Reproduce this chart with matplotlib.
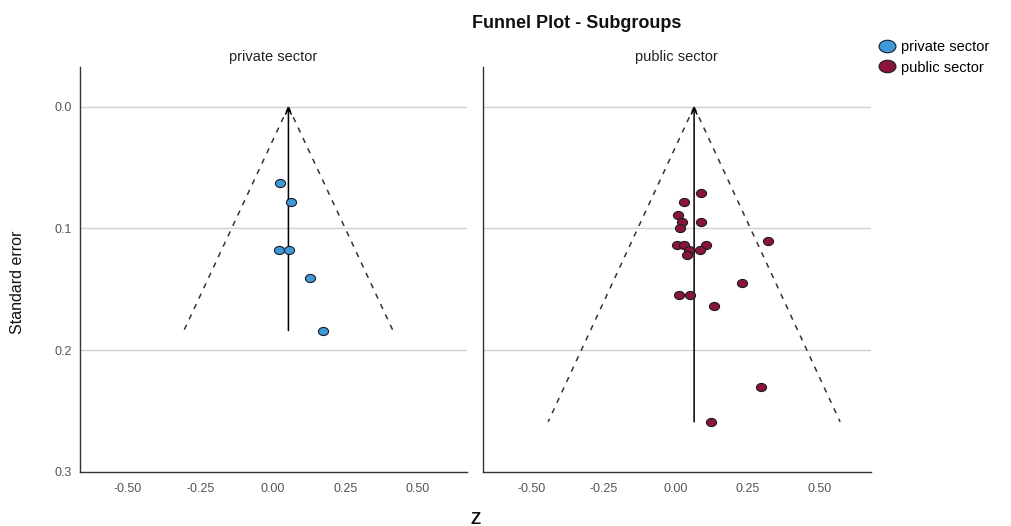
import matplotlib
matplotlib.use("Agg")
import matplotlib.pyplot as plt
from matplotlib.markers import MarkerStyle
from matplotlib.transforms import Affine2D
from matplotlib.lines import Line2D
import numpy as np

# ---- data ----
groups = ["private sector", "public sector"]
private_z = [0.024, 0.062, 0.021, 0.056, 0.128, 0.171]
private_se = [0.063, 0.078, 0.118, 0.118, 0.141, 0.184]
public_z = [0.089, 0.030, 0.009, 0.022, 0.088, 0.016, 0.322, 0.004, 0.030,
            0.106, 0.047, 0.085, 0.039, 0.230, 0.012, 0.050, 0.135, 0.299, 0.123]
public_se = [0.071, 0.078, 0.089, 0.095, 0.095, 0.100, 0.110, 0.114, 0.114,
             0.114, 0.118, 0.118, 0.122, 0.145, 0.155, 0.155, 0.164, 0.230, 0.259]
mean_z = [0.053, 0.065]
se_max = [0.184, 0.259]
x_ticks = [-0.50, -0.25, 0.00, 0.25, 0.50]
x_ticklabels = ["-0.50", "-0.25", "0.00", "0.25", "0.50"]
y_ticks = [0.0, 0.1, 0.2, 0.3]
y_ticklabels = ["0.0", "0.1", "0.2", "0.3"]
colors = ["#3d9ad6", "#8a1538"]

W, H = 1011, 526
fig = plt.figure(figsize=(W / 100, H / 100), dpi=100)
plt.rcParams['font.family'] = ['Liberation Sans', 'DejaVu Sans']

axes_px = [(80, 466.7, -0.666, 0.668), (482.7, 871, -0.670, 0.680)]
title_x = [273, 676.7]
top_px, bot_px = 66.7, 471.7

ell = MarkerStyle('o', transform=Affine2D().scale(1.25, 1.0))

zs = [private_z, public_z]
ses = [private_se, public_se]
for i, (x0, x1, xl, xr) in enumerate(axes_px):
    ax = fig.add_axes([x0 / W, 1 - bot_px / H, (x1 - x0) / W, (bot_px - top_px) / H])
    ax.set_xlim(xl, xr)
    ax.set_ylim(0.3, -0.033)
    for s in ["top", "right"]:
        ax.spines[s].set_visible(False)
    ax.spines["left"].set_linewidth(1.0)
    ax.spines["bottom"].set_linewidth(1.0)
    ax.spines["bottom"].set_color("#333333")
    ax.spines["left"].set_color("#333333")
    for yv in y_ticks[:3]:
        ax.axhline(yv, color="#d0d0d0", lw=1.0, zorder=0)
    ax.set_xticks(x_ticks)
    ax.set_xticklabels(x_ticklabels)
    ax.set_yticks(y_ticks)
    if i == 0:
        ax.set_yticklabels(y_ticklabels)
    else:
        ax.set_yticklabels([])
    ax.tick_params(length=0, labelsize=9, labelcolor="#555555")
    ax.tick_params(axis="x", pad=8)
    ax.tick_params(axis="y", pad=6)

    m, smax = mean_z[i], se_max[i]
    # funnel
    ax.plot([m, m - 1.96 * smax], [0, smax], ls=(0, (3.5, 4)), color="#333333", lw=1.1, zorder=1)
    ax.plot([m, m + 1.96 * smax], [0, smax], ls=(0, (3.5, 4)), color="#333333", lw=1.1, zorder=1)
    # mean line with arrow
    ax.annotate("", xy=(m, 0.0), xytext=(m, smax),
                arrowprops=dict(arrowstyle="->", color="black", lw=1.1,
                                shrinkA=0, shrinkB=0, mutation_scale=10), zorder=2)
    ax.scatter(zs[i], ses[i], marker=ell, s=34, facecolor=colors[i],
               edgecolor="#1a1a2a", linewidth=0.8, zorder=3)
    fig.text(title_x[i] / W, 1 - 57 / H, groups[i], ha="center", va="center",
             fontsize=10.5, color="#222222")

fig.text(577 / W, 1 - 24 / H, "Funnel Plot - Subgroups", ha="center", va="center",
         fontsize=13, fontweight="bold", color="#111111")
fig.text(18 / W, 1 - 282 / H, "Standard error", rotation=90, ha="center", va="center",
         fontsize=11.5, color="#111111")
fig.text(476 / W, 1 - 519 / H, "Z", ha="center", va="center", fontsize=12,
         fontweight="bold", color="#111111")

handles = [Line2D([], [], marker=MarkerStyle('o', transform=Affine2D().scale(1.35, 1.0)),
                  ls="", markersize=9, markerfacecolor=c, markeredgecolor="#1a1a2a",
                  markeredgewidth=0.8) for c in colors]
fig.legend(handles, groups, loc="upper left", bbox_to_anchor=(878 / W, 1 - 40 / H),
           frameon=False, fontsize=10.5, handletextpad=0.35, labelspacing=0.45,
           handlelength=1.2, borderaxespad=0, borderpad=0)

fig.savefig("out.png", dpi=100)
